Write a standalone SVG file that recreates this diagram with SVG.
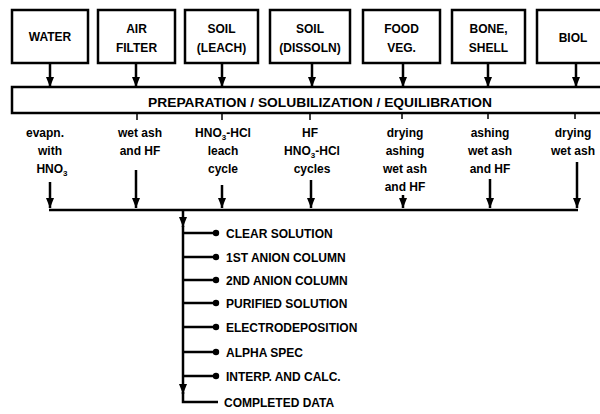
<svg xmlns="http://www.w3.org/2000/svg" width="600" height="414" viewBox="0 0 600 414">
<style>
.box{fill:#fff;stroke:#000;stroke-width:2.5}
.ln{fill:none;stroke:#000;stroke-width:2.5}
.t{font-family:"Liberation Sans",Arial,sans-serif;font-weight:bold;font-size:12px;fill:#000;text-anchor:middle}
.s{font-family:"Liberation Sans",Arial,sans-serif;font-weight:bold;font-size:12px;fill:#000;text-anchor:middle}
.r{font-family:"Liberation Sans",Arial,sans-serif;font-weight:bold;font-size:12px;fill:#000;text-anchor:start}
.sub{font-size:8px}
</style>
<defs>
<marker id="ah" markerUnits="userSpaceOnUse" markerWidth="8" markerHeight="10" refX="4" refY="9" orient="auto-start-reverse" viewBox="0 0 8 10">
<path d="M0,0 L8,0 L4,10 Z" fill="#000" transform="rotate(0)"/>
</marker>
<marker id="dn" markerUnits="userSpaceOnUse" markerWidth="8" markerHeight="10" refX="4" refY="10" orient="0" viewBox="0 0 8 10">
<path d="M0,0 L8,0 L4,10 Z" fill="#000"/>
</marker>
<marker id="dot" markerUnits="userSpaceOnUse" markerWidth="8" markerHeight="8" refX="4" refY="4" viewBox="0 0 8 8">
<circle cx="4" cy="4" r="3.2" fill="#000"/>
</marker>
</defs>

<g id="water"><rect class="box" x="12" y="10" width="76" height="53"/><text class="t" x="50" y="41">WATER</text></g>
<g id="air-filter"><rect class="box" x="98" y="10" width="77" height="53"/><text class="t" x="136.5" y="33">AIR</text><text class="t" x="136.5" y="52">FILTER</text></g>
<g id="soil-leach"><rect class="box" x="185" y="10" width="73" height="53"/><text class="t" x="221.5" y="33">SOIL</text><text class="t" x="221.5" y="52">(LEACH)</text></g>
<g id="soil-dissoln"><rect class="box" x="270" y="10" width="80" height="53"/><text class="t" x="310" y="33">SOIL</text><text class="t" x="310" y="52">(DISSOLN)</text></g>
<g id="food-veg"><rect class="box" x="363" y="10" width="77" height="53"/><text class="t" x="401.5" y="33">FOOD</text><text class="t" x="401.5" y="52">VEG.</text></g>
<g id="bone-shell"><rect class="box" x="452" y="10" width="73" height="53"/><text class="t" x="488.5" y="33">BONE,</text><text class="t" x="488.5" y="52">SHELL</text></g>
<g id="biol"><rect class="box" x="537" y="10" width="70" height="53"/><text class="t" x="573" y="42">BIOL</text></g>

<g id="preparation"><rect class="box" x="12" y="87" width="595" height="26"/><text class="t" x="320" y="107" textLength="344" lengthAdjust="spacingAndGlyphs">PREPARATION / SOLUBILIZATION / EQUILIBRATION</text></g>

<g id="methods">
<text class="s" x="45" y="137">evapn.</text><text class="s" x="50" y="155">with</text><text class="s" x="52" y="173">HNO<tspan class="sub" dy="3">3</tspan></text>
<text class="s" x="140" y="137">wet ash</text><text class="s" x="140" y="155">and HF</text>
<text class="s" x="223" y="137">HNO<tspan class="sub" dy="3">3</tspan><tspan dy="-3">-HCl</tspan></text><text class="s" x="223" y="155">leach</text><text class="s" x="223" y="173">cycle</text>
<text class="s" x="310" y="137">HF</text><text class="s" x="312" y="155">HNO<tspan class="sub" dy="3">3</tspan><tspan dy="-3">-HCl</tspan></text><text class="s" x="312" y="173">cycles</text>
<text class="s" x="405" y="137">drying</text><text class="s" x="405" y="155">ashing</text><text class="s" x="405" y="173">wet ash</text><text class="s" x="405" y="191">and HF</text>
<text class="s" x="490" y="137">ashing</text><text class="s" x="490" y="155">wet ash</text><text class="s" x="490" y="173">and HF</text>
<text class="s" x="573" y="137">drying</text><text class="s" x="573" y="155">wet ash</text>
</g>

<g id="steps">
<text class="r" x="226" y="238">CLEAR SOLUTION</text>
<text class="r" x="226" y="262">1ST ANION COLUMN</text>
<text class="r" x="226" y="285">2ND ANION COLUMN</text>
<text class="r" x="226" y="308">PURIFIED SOLUTION</text>
<text class="r" x="226" y="332">ELECTRODEPOSITION</text>
<text class="r" x="226" y="357">ALPHA SPEC</text>
<text class="r" x="226" y="381">INTERP. AND CALC.</text>
<text class="r" x="224" y="407">COMPLETED DATA</text>
</g>

<g id="connectors">
<line class="ln" x1="50" y1="63" x2="50" y2="87" marker-end="url(#dn)"/>
<line class="ln" x1="136" y1="63" x2="136" y2="87" marker-end="url(#dn)"/>
<line class="ln" x1="222" y1="63" x2="222" y2="87" marker-end="url(#dn)"/>
<line class="ln" x1="312" y1="63" x2="312" y2="87" marker-end="url(#dn)"/>
<line class="ln" x1="403" y1="63" x2="403" y2="87" marker-end="url(#dn)"/>
<line class="ln" x1="488" y1="63" x2="488" y2="87" marker-end="url(#dn)"/>
<line class="ln" x1="576" y1="63" x2="576" y2="87" marker-end="url(#dn)"/>

<g stroke="#000" stroke-width="1.5">
<line x1="137" y1="113" x2="137" y2="120"/>
<line x1="222" y1="113" x2="222" y2="120"/>
<line x1="310" y1="113" x2="310" y2="120"/>
<line x1="402" y1="113" x2="402" y2="119"/>
<line x1="488" y1="113" x2="488" y2="119"/>
<line x1="575" y1="113" x2="575" y2="119"/>
</g>

<line class="ln" x1="50" y1="182" x2="50" y2="208" marker-end="url(#dn)"/>
<line class="ln" x1="136" y1="170" x2="136" y2="208" marker-end="url(#dn)"/>
<line class="ln" x1="222" y1="185" x2="222" y2="208" marker-end="url(#dn)"/>
<line class="ln" x1="311" y1="180" x2="311" y2="208" marker-end="url(#dn)"/>
<line class="ln" x1="403" y1="195" x2="403" y2="208" marker-end="url(#dn)"/>
<line class="ln" x1="490" y1="179" x2="490" y2="208" marker-end="url(#dn)"/>
<line class="ln" x1="577" y1="162" x2="577" y2="208" marker-end="url(#dn)"/>
<line class="ln" x1="49" y1="210" x2="578" y2="210"/>

<line class="ln" x1="183" y1="210" x2="183" y2="227" marker-end="url(#dn)"/>
<line class="ln" x1="183" y1="226" x2="183" y2="394" marker-end="url(#dn)"/>
<polyline class="ln" points="183,392 183,402 218,402"/>
<line class="ln" x1="183" y1="233" x2="216" y2="233" marker-end="url(#dot)"/>
<line class="ln" x1="183" y1="257" x2="216" y2="257" marker-end="url(#dot)"/>
<line class="ln" x1="183" y1="280" x2="216" y2="280" marker-end="url(#dot)"/>
<line class="ln" x1="183" y1="303" x2="216" y2="303" marker-end="url(#dot)"/>
<line class="ln" x1="183" y1="327" x2="216" y2="327" marker-end="url(#dot)"/>
<line class="ln" x1="183" y1="352" x2="216" y2="352" marker-end="url(#dot)"/>
<line class="ln" x1="183" y1="376" x2="216" y2="376" marker-end="url(#dot)"/>
</g>
</svg>
